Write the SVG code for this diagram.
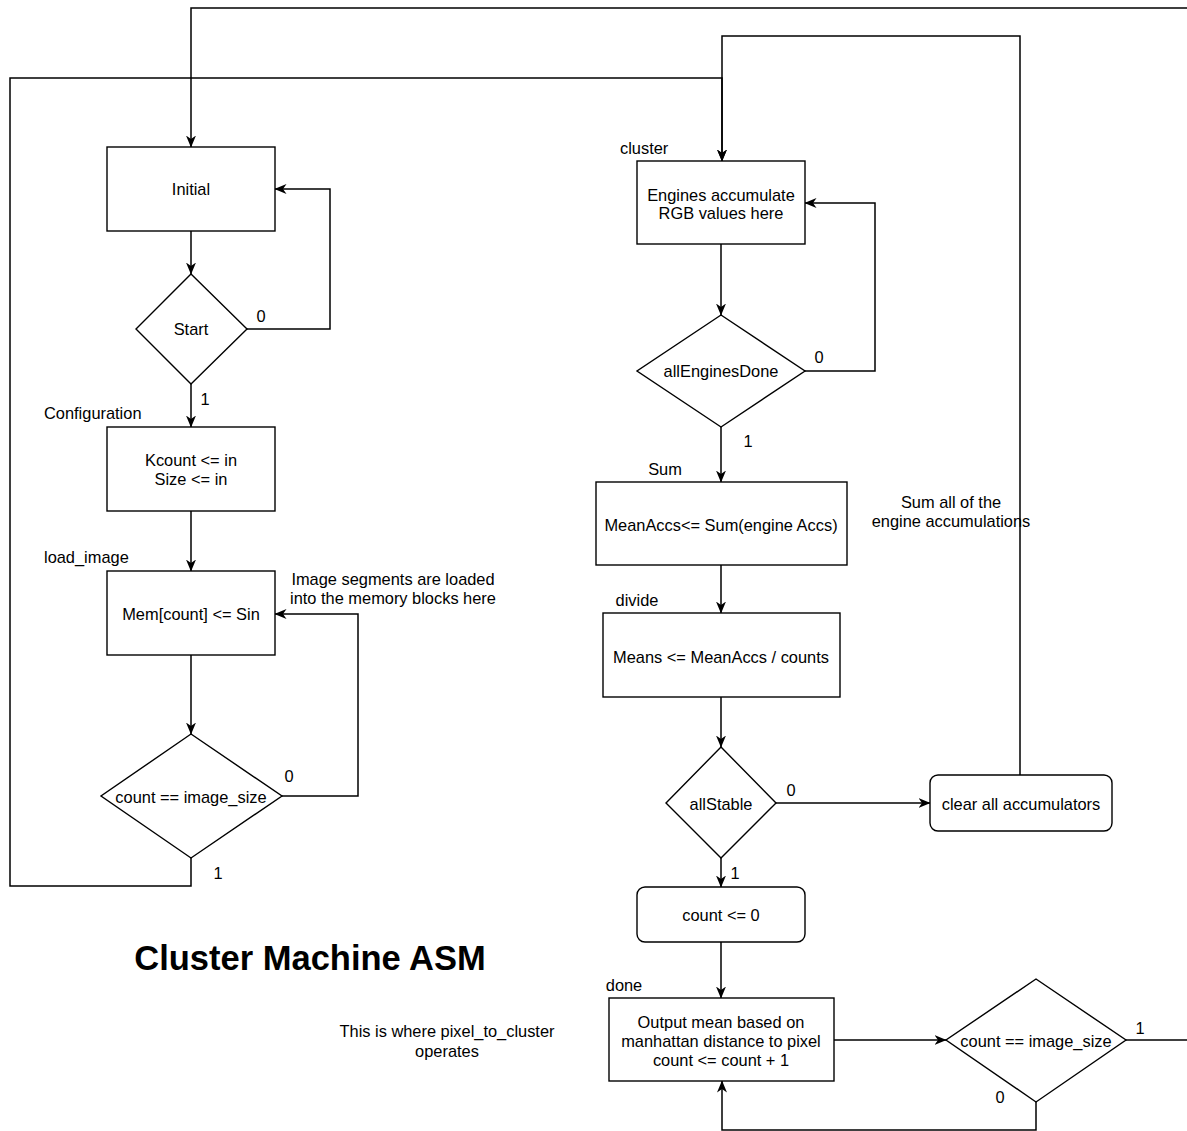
<svg xmlns="http://www.w3.org/2000/svg" width="1187" height="1131" viewBox="0 0 1187 1131">
<style>
.b{fill:#fff;stroke:#000;stroke-width:1.4}
.c{fill:none;stroke:#000;stroke-width:1.5}
text{font-family:"Liberation Sans",Arial,sans-serif;font-size:16.4px;fill:#000}
.m{text-anchor:middle}
.t{font-size:34.5px;font-weight:bold;text-anchor:middle}
</style>
<defs>
<marker id="a" viewBox="0 0 12 11" refX="11.5" refY="5.5" markerWidth="12" markerHeight="11" markerUnits="userSpaceOnUse" orient="auto">
<path d="M0,0.5 L12,5.5 L0,10.5 L3.5,5.5 Z" fill="#000"/>
</marker>
</defs>
<rect width="1187" height="1131" fill="#fff"/>
<g id="connectors">
<path class="c" d="M1187,8 H191 V147" marker-end="url(#a)"/>
<path class="c" d="M191,858 V886 H10 V78 H722 V161" marker-end="url(#a)"/>
<path class="c" d="M1020,775 V36 H722 V161" marker-end="url(#a)"/>
<path class="c" d="M191,231 V274" marker-end="url(#a)"/>
<path class="c" d="M247,329 H330 V189 H275" marker-end="url(#a)"/>
<path class="c" d="M191,384 V427" marker-end="url(#a)"/>
<path class="c" d="M191,511 V571" marker-end="url(#a)"/>
<path class="c" d="M191,655 V734" marker-end="url(#a)"/>
<path class="c" d="M282,796 H358 V614 H275" marker-end="url(#a)"/>
<path class="c" d="M721,244 V315" marker-end="url(#a)"/>
<path class="c" d="M805,371 H875 V203 H805" marker-end="url(#a)"/>
<path class="c" d="M721,427 V482" marker-end="url(#a)"/>
<path class="c" d="M721,565 V613" marker-end="url(#a)"/>
<path class="c" d="M721,697 V747" marker-end="url(#a)"/>
<path class="c" d="M776,803 H930" marker-end="url(#a)"/>
<path class="c" d="M721,858 V887" marker-end="url(#a)"/>
<path class="c" d="M721,942 V998" marker-end="url(#a)"/>
<path class="c" d="M834,1040 H946" marker-end="url(#a)"/>
<path class="c" d="M1126,1040 H1187"/>
<path class="c" d="M1036,1102 V1130 H722 V1081" marker-end="url(#a)"/>
<text x="261" y="316" class="m" dominant-baseline="central">0</text>
<text x="205" y="399" class="m" dominant-baseline="central">1</text>
<text x="289" y="776" class="m" dominant-baseline="central">0</text>
<text x="218" y="873" class="m" dominant-baseline="central">1</text>
<text x="819" y="357" class="m" dominant-baseline="central">0</text>
<text x="748" y="441" class="m" dominant-baseline="central">1</text>
<text x="791" y="790" class="m" dominant-baseline="central">0</text>
<text x="735" y="873" class="m" dominant-baseline="central">1</text>
<text x="1140" y="1028" class="m" dominant-baseline="central">1</text>
<text x="1000" y="1097" class="m" dominant-baseline="central">0</text>
</g>
<g id="initial">
<rect class="b" x="107" y="147" width="168" height="84"/>
<text x="191" y="189" class="m" dominant-baseline="central">Initial</text>
</g>
<g id="start">
<polygon class="b" points="191,274 247,329 191,384 136,329"/>
<text x="191" y="329" class="m" dominant-baseline="central">Start</text>
</g>
<g id="configuration">
<text x="44" y="413" dominant-baseline="central">Configuration</text>
<rect class="b" x="107" y="427" width="168" height="84"/>
<text x="191" y="460" class="m" dominant-baseline="central">Kcount &lt;= in</text>
<text x="191" y="479" class="m" dominant-baseline="central">Size &lt;= in</text>
</g>
<g id="load_image">
<text x="44" y="557" dominant-baseline="central">load_image</text>
<rect class="b" x="107" y="571" width="168" height="84"/>
<text x="191" y="614" class="m" dominant-baseline="central">Mem[count] &lt;= Sin</text>
</g>
<g id="note_load">
<text x="393" y="579" class="m" dominant-baseline="central">Image segments are loaded</text>
<text x="393" y="598" class="m" dominant-baseline="central">into the memory blocks here</text>
</g>
<g id="load_check">
<polygon class="b" points="191,734 282,796 191,858 101,796"/>
<text x="191" y="797" class="m" dominant-baseline="central">count == image_size</text>
</g>
<g id="cluster">
<text x="620" y="148" dominant-baseline="central">cluster</text>
<rect class="b" x="637" y="161" width="168" height="83"/>
<text x="721" y="195" class="m" dominant-baseline="central">Engines accumulate</text>
<text x="721" y="213" class="m" dominant-baseline="central">RGB values here</text>
</g>
<g id="allEnginesDone">
<polygon class="b" points="721,315 805,371 721,427 637,371"/>
<text x="721" y="371" class="m" dominant-baseline="central">allEnginesDone</text>
</g>
<g id="sum">
<text x="665" y="469" class="m" dominant-baseline="central">Sum</text>
<rect class="b" x="596" y="482" width="251" height="83"/>
<text x="721" y="525" class="m" dominant-baseline="central">MeanAccs&lt;= Sum(engine Accs)</text>
</g>
<g id="note_sum">
<text x="951" y="502" class="m" dominant-baseline="central">Sum all of the</text>
<text x="951" y="521" class="m" dominant-baseline="central">engine accumulations</text>
</g>
<g id="divide">
<text x="637" y="600" class="m" dominant-baseline="central">divide</text>
<rect class="b" x="603" y="613" width="237" height="84"/>
<text x="721" y="657" class="m" dominant-baseline="central">Means &lt;= MeanAccs / counts</text>
</g>
<g id="allStable">
<polygon class="b" points="721,747 776,803 721,858 666,803"/>
<text x="721" y="804" class="m" dominant-baseline="central">allStable</text>
</g>
<g id="clear">
<rect class="b" x="930" y="775" width="182" height="56" rx="8"/>
<text x="1021" y="804" class="m" dominant-baseline="central">clear all accumulators</text>
</g>
<g id="count0">
<rect class="b" x="637" y="887" width="168" height="55" rx="8"/>
<text x="721" y="915" class="m" dominant-baseline="central">count &lt;= 0</text>
</g>
<g id="done">
<text x="624" y="985" class="m" dominant-baseline="central">done</text>
<rect class="b" x="609" y="998" width="225" height="83"/>
<text x="721" y="1022" class="m" dominant-baseline="central">Output mean based on</text>
<text x="721" y="1041" class="m" dominant-baseline="central">manhattan distance to pixel</text>
<text x="721" y="1060" class="m" dominant-baseline="central">count &lt;= count + 1</text>
</g>
<g id="done_check">
<polygon class="b" points="1036,979 1126,1040 1036,1102 946,1040"/>
<text x="1036" y="1041" class="m" dominant-baseline="central">count == image_size</text>
</g>
<g id="note_pixel">
<text x="447" y="1031" class="m" dominant-baseline="central">This is where pixel_to_cluster</text>
<text x="447" y="1051" class="m" dominant-baseline="central">operates</text>
</g>
<g id="title">
<text x="310" y="958" class="t" dominant-baseline="central">Cluster Machine ASM</text>
</g>
</svg>
